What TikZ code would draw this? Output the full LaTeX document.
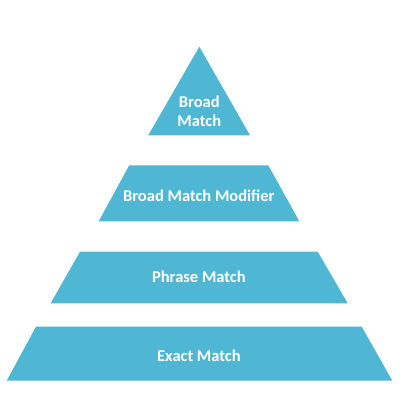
\documentclass[tikz,border=0pt]{standalone}
\usepackage{fontspec}
\setmainfont{Carlito}
\definecolor{pyr}{RGB}{79,182,211}
\begin{document}
\begin{tikzpicture}[x=1pt,y=-1pt,
  tier/.style={fill=pyr,draw=none},
  lbl/.style={text=white,font=\fontsize{16.5}{19}\selectfont\bfseries,align=center,inner sep=0pt}]
\useasboundingbox (0,0) rectangle (400,400);
\fill[white] (0,0) rectangle (400,400);
\path[tier] (199.3,46.7) -- (250,135.3) -- (148.3,135.3) -- cycle;
\path[tier] (129.3,165.3) -- (268.3,165.3) -- (299.3,221.3) -- (98.7,221.3) -- cycle;
\path[tier] (80,251.7) -- (317.7,251.7) -- (347.7,303.3) -- (50.7,303.3) -- cycle;
\path[tier] (36,326.7) -- (361.7,326.7) -- (392.3,380.7) -- (6.7,380.7) -- cycle;
\node[lbl] (t1) at (199.3,111) {Broad\\Match};
\node[lbl] (t2) at (198.8,195.7) {Broad Match Modifier};
\node[lbl] (t3) at (198.9,277) {Phrase Match};
\node[lbl] (t4) at (198.9,356) {Exact Match};
\end{tikzpicture}
\end{document}
